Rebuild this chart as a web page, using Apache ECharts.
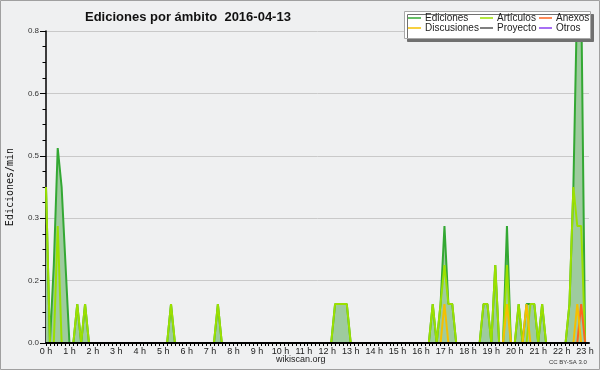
<!DOCTYPE html>
<html>
<head>
<meta charset="utf-8">
<script src="https://cdn.jsdelivr.net/npm/echarts@6/dist/echarts.min.js"></script>
<style>
  html, body { margin: 0; padding: 0; }
  #chart { width: 600px; height: 370px; }
</style>
</head>
<body>
<div id="chart"></div>
<script>
// tramos de 10 minutos, 6 por hora (0 h ... 23 h)
const ediciones = [
  0.4, 0, 0.2, 0.5, 0.4, 0.2, 0, 0, 0.1, 0, 0.1, 0,
  0, 0, 0, 0, 0, 0, 0, 0, 0, 0, 0, 0,
  0, 0, 0, 0, 0, 0, 0, 0, 0.1, 0, 0, 0,
  0, 0, 0, 0, 0, 0, 0, 0, 0.1, 0, 0, 0,
  0, 0, 0, 0, 0, 0, 0, 0, 0, 0, 0, 0,
  0, 0, 0, 0, 0, 0, 0, 0, 0, 0, 0, 0,
  0, 0, 0.1, 0.1, 0.1, 0.1, 0, 0, 0, 0, 0, 0,
  0, 0, 0, 0, 0, 0, 0, 0, 0, 0, 0, 0,
  0, 0, 0, 0.1, 0, 0.1, 0.3, 0.1, 0.1, 0, 0, 0,
  0, 0, 0, 0, 0.1, 0.1, 0, 0.2, 0, 0, 0.3, 0,
  0, 0.1, 0, 0.1, 0.1, 0.1, 0, 0.1, 0, 0, 0, 0,
  0, 0, 0.1, 0.4, 0.9, 0.9, 0
];
const articulos = [
  0.4, 0, 0, 0.3, 0, 0, 0, 0, 0.1, 0, 0.1, 0,
  0, 0, 0, 0, 0, 0, 0, 0, 0, 0, 0, 0,
  0, 0, 0, 0, 0, 0, 0, 0, 0.1, 0, 0, 0,
  0, 0, 0, 0, 0, 0, 0, 0, 0.1, 0, 0, 0,
  0, 0, 0, 0, 0, 0, 0, 0, 0, 0, 0, 0,
  0, 0, 0, 0, 0, 0, 0, 0, 0, 0, 0, 0,
  0, 0, 0.1, 0.1, 0.1, 0.1, 0, 0, 0, 0, 0, 0,
  0, 0, 0, 0, 0, 0, 0, 0, 0, 0, 0, 0,
  0, 0, 0, 0.1, 0, 0.1, 0.2, 0.1, 0.1, 0, 0, 0,
  0, 0, 0, 0, 0.1, 0.1, 0, 0.2, 0, 0, 0.2, 0,
  0, 0.1, 0, 0, 0.1, 0.1, 0, 0.1, 0, 0, 0, 0,
  0, 0, 0.1, 0.4, 0.3, 0.3, 0
];
const anexos = [
  0, 0, 0, 0, 0, 0, 0, 0, 0, 0, 0, 0,
  0, 0, 0, 0, 0, 0, 0, 0, 0, 0, 0, 0,
  0, 0, 0, 0, 0, 0, 0, 0, 0, 0, 0, 0,
  0, 0, 0, 0, 0, 0, 0, 0, 0, 0, 0, 0,
  0, 0, 0, 0, 0, 0, 0, 0, 0, 0, 0, 0,
  0, 0, 0, 0, 0, 0, 0, 0, 0, 0, 0, 0,
  0, 0, 0, 0, 0, 0, 0, 0, 0, 0, 0, 0,
  0, 0, 0, 0, 0, 0, 0, 0, 0, 0, 0, 0,
  0, 0, 0, 0, 0, 0, 0, 0, 0, 0, 0, 0,
  0, 0, 0, 0, 0, 0, 0, 0, 0, 0, 0, 0,
  0, 0, 0, 0, 0, 0, 0, 0, 0, 0, 0, 0,
  0, 0, 0, 0, 0, 0.1, 0
];
const discusiones = [
  0, 0, 0, 0, 0, 0, 0, 0, 0, 0, 0, 0,
  0, 0, 0, 0, 0, 0, 0, 0, 0, 0, 0, 0,
  0, 0, 0, 0, 0, 0, 0, 0, 0, 0, 0, 0,
  0, 0, 0, 0, 0, 0, 0, 0, 0, 0, 0, 0,
  0, 0, 0, 0, 0, 0, 0, 0, 0, 0, 0, 0,
  0, 0, 0, 0, 0, 0, 0, 0, 0, 0, 0, 0,
  0, 0, 0, 0, 0, 0, 0, 0, 0, 0, 0, 0,
  0, 0, 0, 0, 0, 0, 0, 0, 0, 0, 0, 0,
  0, 0, 0, 0, 0, 0, 0.1, 0, 0, 0, 0, 0,
  0, 0, 0, 0, 0, 0, 0, 0, 0, 0, 0.1, 0,
  0, 0, 0, 0.1, 0, 0, 0, 0, 0, 0, 0, 0,
  0, 0, 0, 0, 0.1, 0, 0
];
const proyecto = [];
const otros = [];

const nombres = ['Ediciones', 'Artículos', 'Anexos', 'Discusiones', 'Proyecto', 'Otros'];
const colores = ['#33a833', '#9be000', '#ff6420', '#f5c000', '#555555', '#8a3ff0'];
const valores = [ediciones, articulos, anexos, discusiones, proyecto, otros];
const yTicks = [0, 0.8, 0.16]; // min, max, paso

const tramosPorHora = 6;
const numTramos = 139;

let chart = echarts.init(document.getElementById('chart'), null, { renderer: 'canvas' });

// leyenda en 2 filas x 3 columnas
const legendPos = [
  [408, 13], [480, 13], [539, 13],
  [408, 23], [480, 23], [539, 23]
];

let legends = nombres.map((n, i) => ({
  data: [n],
  left: legendPos[i][0],
  top: legendPos[i][1],
  padding: 0,
  icon: 'rect',
  itemWidth: 13,
  itemHeight: 1.5,
  itemGap: 0,
  textStyle: { fontFamily: 'Liberation Sans', fontSize: 10, color: '#222', padding: [0, 0, 0, -1] },
  z: 5
}));

let series = nombres.map((n, i) => ({
  name: n,
  type: 'line',
  color: colores[i],
  symbol: 'none',
  showSymbol: false,
  lineStyle: { width: 2, color: colores[i] },
  data: valores[i].map((v, k) => [k, v]),
  areaStyle: i === 0 ? { color: '#9ecb9e', opacity: 1 } : undefined,
  z: 2 + i * 0.01,
  animation: false
}));

chart.setOption({
  backgroundColor: '#eff0f1',
  animation: false,
  title: {
    text: 'Ediciones por ámbito  2016-04-13',
    left: 80,
    top: 6,
    textStyle: { fontFamily: 'Liberation Sans', fontSize: 13, fontWeight: 'bold', color: '#111' }
  },
  legend: legends,
  grid: { left: 46, right: 11, top: 31, bottom: 27, outerBoundsMode: 'none', containLabel: false },
  xAxis: {
    type: 'value',
    min: 0,
    max: numTramos,
    interval: 1,
    z: 10,
    axisLine: { lineStyle: { color: '#000', width: 2 } },
    axisTick: { length: 3, lineStyle: { color: '#000' } },
    splitLine: { show: false },
    axisLabel: {
      fontFamily: 'Liberation Sans',
      fontSize: 9,
      color: '#222',
      margin: 4,
      showMaxLabel: false,
      formatter: v => (v % tramosPorHora === 0 ? (v / tramosPorHora) + ' h' : '')
    }
  },
  yAxis: {
    type: 'value',
    min: yTicks[0],
    max: yTicks[1],
    interval: yTicks[2],
    name: 'Ediciones/min',
    nameLocation: 'middle',
    nameGap: 31,
    nameRotate: 90,
    nameTextStyle: { fontFamily: 'DejaVu Sans Mono', fontSize: 10, color: '#111' },
    axisLine: { show: true, lineStyle: { color: '#000', width: 1.5 } },
    axisTick: { show: true, length: 6, lineStyle: { color: '#000' } },
    minorTick: { show: true, splitNumber: 4, length: 3.5, lineStyle: { color: '#000' } },
    splitLine: { show: true, lineStyle: { color: '#c9c9c9', width: 1 } },
    axisLabel: {
      fontFamily: 'Liberation Sans',
      fontSize: 8,
      color: '#333',
      margin: 7,
      formatter: v => v.toFixed(1)
    }
  },
  graphic: [
    {
      type: 'rect',
      shape: { x: 0.5, y: 0.5, width: 599, height: 369 },
      style: { fill: 'none', stroke: '#a0a0a0', lineWidth: 1 },
      z: 10
    },
    {
      type: 'rect',
      shape: { x: 404.5, y: 11.5, width: 186, height: 27 },
      style: { fill: '#fff', stroke: '#a8a8a8', lineWidth: 1, shadowColor: '#707070', shadowOffsetX: 3, shadowOffsetY: 3, shadowBlur: 0 },
      z: 3
    },
    {
      type: 'text',
      left: 276,
      top: 355,
      style: { text: 'wikiscan.org', font: '9px "Liberation Sans"', fill: '#222' }
    },
    {
      type: 'text',
      left: 549,
      top: 359,
      style: { text: 'CC BY-SA 3.0', font: '6px "Liberation Sans"', fill: '#333' }
    }
  ],
  series: series
});
</script>
</body>
</html>
